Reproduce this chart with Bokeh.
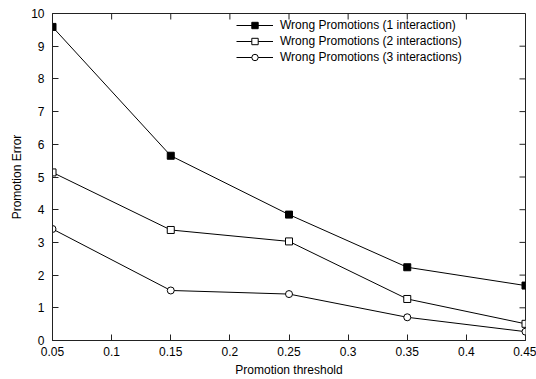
import math
from bokeh.plotting import figure
from bokeh.models import FixedTicker, Range1d, Legend, LegendItem
from bokeh.embed import file_html
from bokeh.resources import INLINE

thresholds = [0.05, 0.15, 0.25, 0.35, 0.45]
wrong_1 = [9.59, 5.65, 3.85, 2.24, 1.68]
wrong_2 = [5.14, 3.38, 3.03, 1.27, 0.51]
wrong_3 = [3.41, 1.53, 1.42, 0.71, 0.27]
series_labels = ["Wrong Promotions (1 interaction)",
                 "Wrong Promotions (2 interactions)",
                 "Wrong Promotions (3 interactions)"]
x_ticks = [0.05, 0.1, 0.15, 0.2, 0.25, 0.3, 0.35, 0.4, 0.45]
x_tick_labels = ["0.05", "0.1", "0.15", "0.2", "0.25", "0.3", "0.35", "0.4", "0.45"]
y_ticks = [0, 1, 2, 3, 4, 5, 6, 7, 8, 9, 10]

FONT = "Liberation Sans"
FS = "12px"
AX = "#222222"

x_min, x_max = x_ticks[0], x_ticks[-1]
y_min, y_max = y_ticks[0], y_ticks[-1]

p = figure(width=536, height=379, output_backend="svg", toolbar_location=None,
           x_range=Range1d(x_min, x_max), y_range=Range1d(y_min, y_max),
           min_border_left=52, min_border_right=11, min_border_top=13, min_border_bottom=39)
p.background_fill_color = "white"
p.border_fill_color = "white"
p.outline_line_color = AX
p.outline_line_width = 1
p.xgrid.visible = False
p.ygrid.visible = False

def style_axis(ax):
    ax.major_tick_in = 6
    ax.major_tick_out = 0
    ax.minor_tick_in = 0
    ax.minor_tick_out = 0
    ax.axis_line_color = AX
    ax.axis_line_width = 1
    ax.major_tick_line_color = AX
    ax.major_tick_line_width = 1
    ax.major_label_text_font = FONT
    ax.major_label_text_font_size = FS
    ax.major_label_text_color = "black"
    ax.axis_label_text_font = FONT
    ax.axis_label_text_font_size = FS
    ax.axis_label_text_font_style = "normal"
    ax.axis_label_text_color = "black"

xax = p.xaxis[0]
xax.ticker = FixedTicker(ticks=x_ticks)
xax.major_label_overrides = dict(zip(x_ticks, x_tick_labels))
xax.axis_label = "Promotion threshold"
style_axis(xax)
xax.major_label_standoff = 6
xax.axis_label_standoff = 4

yax = p.yaxis[0]
yax.ticker = FixedTicker(ticks=y_ticks)
yax.axis_label = "Promotion Error"
style_axis(yax)
yax.major_label_standoff = 8
yax.axis_label_standoff = 4

# mirrored inward ticks on the top and right edges of the frame
p.ray(x=x_ticks, y=[y_max] * len(x_ticks), length=6, length_units="screen",
      angle=-math.pi / 2, line_color=AX, line_width=1)
p.ray(x=[x_max] * len(y_ticks), y=y_ticks, length=6, length_units="screen",
      angle=math.pi, line_color=AX, line_width=1)

l1 = p.line(thresholds, wrong_1, line_color="black", line_width=1)
m1 = p.scatter(thresholds, wrong_1, marker="square", size=7, fill_color="black", line_color="black")
l2 = p.line(thresholds, wrong_2, line_color="black", line_width=1)
m2 = p.scatter(thresholds, wrong_2, marker="square", size=7, fill_color="white", line_color="black")
l3 = p.line(thresholds, wrong_3, line_color="black", line_width=1)
m3 = p.scatter(thresholds, wrong_3, marker="circle", size=7, fill_color="white", line_color="black")

legend = Legend(items=[LegendItem(label=series_labels[0], renderers=[l1, m1]),
                       LegendItem(label=series_labels[1], renderers=[l2, m2]),
                       LegendItem(label=series_labels[2], renderers=[l3, m3])],
                location=(180, 271))
legend.background_fill_alpha = 0
legend.border_line_alpha = 0
legend.padding = 4
legend.margin = 0
legend.spacing = 0
legend.glyph_width = 37
legend.glyph_height = 16
legend.label_height = 16
legend.label_standoff = 7
legend.label_text_font = FONT
legend.label_text_font_size = FS
legend.label_text_color = "black"
p.add_layout(legend, "center")

open("out.html", "w").write(file_html(p, INLINE))
